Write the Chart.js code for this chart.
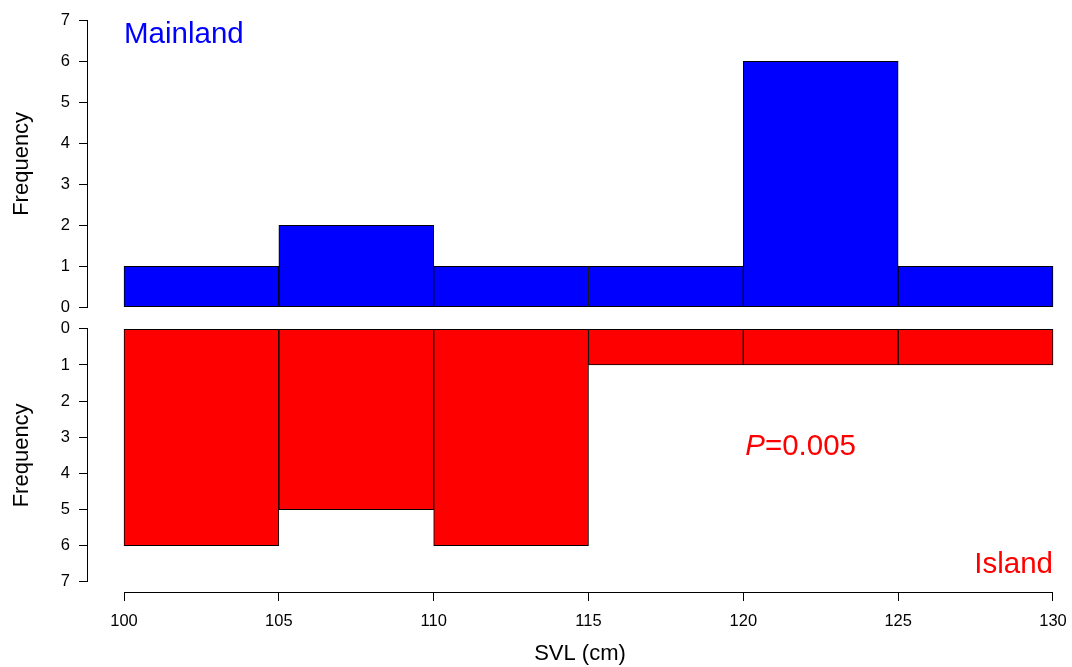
<!DOCTYPE html>
<html>
<head>
<meta charset="utf-8">
<script src="https://cdn.jsdelivr.net/npm/chart.js@4"></script>
<style>
  html, body { margin: 0; padding: 0; background: #fff; }
  #wrap { width: 1072px; height: 667px; }
</style>
</head>
<body>
<div id="wrap"><canvas id="histChart" width="1072" height="667"></canvas></div>
<script>
// histogram bins (SVL, cm) and counts per group
const binEdges = [100, 105, 110, 115, 120, 125, 130];
const mainlandCounts = [1, 2, 1, 1, 6, 1];
const islandCounts = [6, 5, 6, 1, 1, 1];
const freqTicks = [0, 1, 2, 3, 4, 5, 6, 7];
const svlTicks = [100, 105, 110, 115, 120, 125, 130];
const pValueText = '0.005';

const FONT = '"Liberation Sans", Arial, Helvetica, sans-serif';
const binCenters = binEdges.slice(0, -1).map((e, i) => (e + binEdges[i + 1]) / 2);

Chart.defaults.font.family = FONT;
Chart.defaults.color = '#000';

// R style axes: line only from first to last tick, plus the text notes
const rStyle = {
    id: 'rStyle',
    afterDatasetsDraw(chart) {
        const { ctx, chartArea, scales } = chart;
        const x = scales.x, yTop = scales.yTop, yBot = scales.yBot;
        const lo = freqTicks[0], hi = freqTicks[freqTicks.length - 1];
        ctx.save();
        ctx.strokeStyle = '#000';
        ctx.lineWidth = 1;
        ctx.beginPath();
        const ax = chartArea.left - 0.5;
        ctx.moveTo(ax, yTop.getPixelForValue(lo));
        ctx.lineTo(ax, yTop.getPixelForValue(hi));
        ctx.moveTo(ax, yBot.getPixelForValue(lo));
        ctx.lineTo(ax, yBot.getPixelForValue(hi));
        const by = chartArea.bottom + 0.5;
        ctx.moveTo(x.getPixelForValue(svlTicks[0]), by);
        ctx.lineTo(x.getPixelForValue(svlTicks[svlTicks.length - 1]), by);
        ctx.stroke();

        ctx.textBaseline = 'alphabetic';
        ctx.font = '29.5px ' + FONT;
        ctx.fillStyle = '#0000ff';
        ctx.textAlign = 'left';
        ctx.fillText('Mainland', x.getPixelForValue(100), yTop.getPixelForValue(6.45));

        ctx.fillStyle = '#ff0000';
        ctx.textAlign = 'right';
        ctx.fillText('Island', x.getPixelForValue(130), yBot.getPixelForValue(6.75));

        // P=0.005 with italic P
        ctx.textAlign = 'left';
        ctx.font = 'italic 29.5px ' + FONT;
        const wP = ctx.measureText('P').width;
        ctx.font = '29.5px ' + FONT;
        const rest = '=' + pValueText;
        const wR = ctx.measureText(rest).width;
        const px = x.getPixelForValue(121.85) - (wP + wR) / 2;
        const py = yBot.getPixelForValue(3.5);
        ctx.font = 'italic 29.5px ' + FONT;
        ctx.fillText('P', px, py);
        ctx.font = '29.5px ' + FONT;
        ctx.fillText(rest, px + wP, py);
        ctx.restore();
    }
};

function setTicks(values) {
    return (scale) => { scale.ticks = values.map(v => ({ value: v })); };
}

function fixY(s) {
    s.width = 88;
    s.paddingTop = 0;
    s.paddingBottom = 0;
}

function fixX(s) {
    s.height = 75;
    s.paddingLeft = 0;
    s.paddingRight = 0;
}

const tickGrid = { offset: false, drawOnChartArea: false, drawTicks: true, tickLength: 9, tickColor: '#000', lineWidth: 1 };

new Chart(document.getElementById('histChart'), {
    type: 'bar',
    data: {
        datasets: [
            {
                label: 'Island',
                data: binCenters.map((c, i) => ({ x: c, y: islandCounts[i] })),
                yAxisID: 'yBot',
                backgroundColor: '#ff0000',
                borderColor: '#000',
                borderWidth: 1,
                borderSkipped: false,
                grouped: false,
                barPercentage: 1,
                categoryPercentage: 1
            },
            {
                label: 'Mainland',
                data: binCenters.map((c, i) => ({ x: c, y: mainlandCounts[i] })),
                yAxisID: 'yTop',
                backgroundColor: '#0000ff',
                borderColor: '#000',
                borderWidth: 1,
                borderSkipped: false,
                grouped: false,
                barPercentage: 1,
                categoryPercentage: 1
            }
        ]
    },
    options: {
        responsive: false,
        animation: false,
        layout: { padding: { top: 9, left: 0, right: 0, bottom: 0 } },
        plugins: { legend: { display: false }, tooltip: { enabled: false } },
        scales: {
            x: {
                type: 'linear',
                offset: false,
                min: 98.837,
                max: 130.614,
                afterBuildTicks: setTicks(svlTicks),
                afterFit: fixX,
                grid: tickGrid,
                border: { display: false },
                ticks: { font: { size: 16.5 }, padding: 11, autoSkip: false, maxRotation: 0 },
                title: { display: true, text: 'SVL (cm)', font: { size: 22 }, padding: { top: 0, bottom: 0 } }
            },
            yBot: {
                type: 'linear',
                position: 'left',
                stack: 'freq',
                stackWeight: 273.3,
                reverse: true,
                min: -0.28,
                max: 7.28,
                afterBuildTicks: setTicks(freqTicks),
                afterFit: fixY,
                grid: tickGrid,
                border: { display: false },
                ticks: { font: { size: 16.5 }, padding: 9, autoSkip: false },
                title: { display: true, text: 'Frequency', font: { size: 22 }, padding: { top: 9, bottom: 0 } }
            },
            yTop: {
                type: 'linear',
                position: 'left',
                stack: 'freq',
                stackWeight: 309.7,
                min: -0.28,
                max: 7.28,
                afterBuildTicks: setTicks(freqTicks),
                afterFit: fixY,
                grid: tickGrid,
                border: { display: false },
                ticks: { font: { size: 16.5 }, padding: 9, autoSkip: false },
                title: { display: true, text: 'Frequency', font: { size: 22 }, padding: { top: 9, bottom: 0 } }
            }
        }
    },
    plugins: [rStyle]
});
</script>
</body>
</html>
